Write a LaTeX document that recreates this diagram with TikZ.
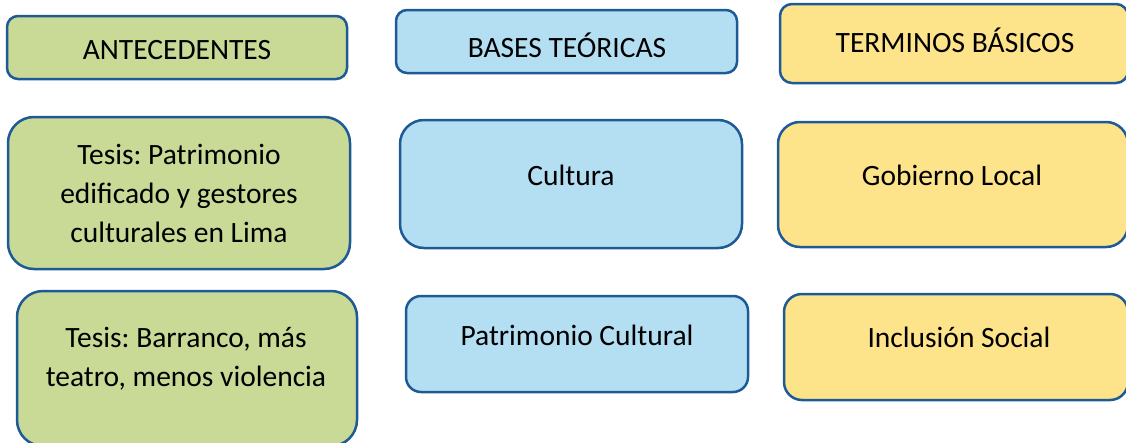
\documentclass[tikz,border=0pt]{standalone}
\usepackage{fontspec}
\setmainfont{Carlito}
\frenchspacing
\definecolor{gfill}{RGB}{200,218,150}
\definecolor{bfill}{RGB}{180,222,242}
\definecolor{yfill}{RGB}{253,227,138}
\definecolor{edge}{RGB}{30,90,150}
\begin{document}
\begin{tikzpicture}[x=1pt,y=-1pt,
  card/.style={draw=edge,line width=2.5pt},
  lbl/.style={font=\fontsize{29.5}{39}\selectfont\frenchspacing,align=center,inner sep=0pt,text=black}]
\useasboundingbox (0,0) rectangle (1126,442);
\clip (0,0) rectangle (1126,442);
% left column
\draw[card,fill=gfill,rounded corners=11pt] (7,16) rectangle (347,79);
\node[lbl] (ant) at (177,50) {ANTECEDENTES};
\draw[card,fill=gfill,rounded corners=26pt] (8,117) rectangle (350,269);
\node[lbl] (t1) at (179,193) {Tesis: Patrimonio\\edificado y gestores\\culturales en Lima};
\draw[card,fill=gfill,rounded corners=26pt] (17,291) rectangle (357,446);
\node[lbl] (t2) at (186,359) {Tesis: Barranco, más\\teatro, menos violencia};
% middle column
\draw[card,fill=bfill,rounded corners=11pt] (396,10) rectangle (737,73);
\node[lbl] (bas) at (567,45) {BASES TEÓRICAS};
\draw[card,fill=bfill,rounded corners=24pt] (400,120) rectangle (742,248);
\node[lbl] (cul) at (571,175) {Cultura};
\draw[card,fill=bfill,rounded corners=15pt] (406,296) rectangle (748,392);
\node[lbl] (pat) at (577,335) {Patrimonio Cultural};
% right column
\draw[card,fill=yfill,rounded corners=12pt] (780,4) rectangle (1128,83);
\node[lbl] (ter) at (955,40) {TERMINOS BÁSICOS};
\draw[card,fill=yfill,rounded corners=22pt] (778,122) rectangle (1128,247);
\node[lbl] (gob) at (952,175) {Gobierno Local};
\draw[card,fill=yfill,rounded corners=18pt] (784,294) rectangle (1128,400);
\node[lbl] (inc) at (959,337) {Inclusión Social};
\end{tikzpicture}
\end{document}
